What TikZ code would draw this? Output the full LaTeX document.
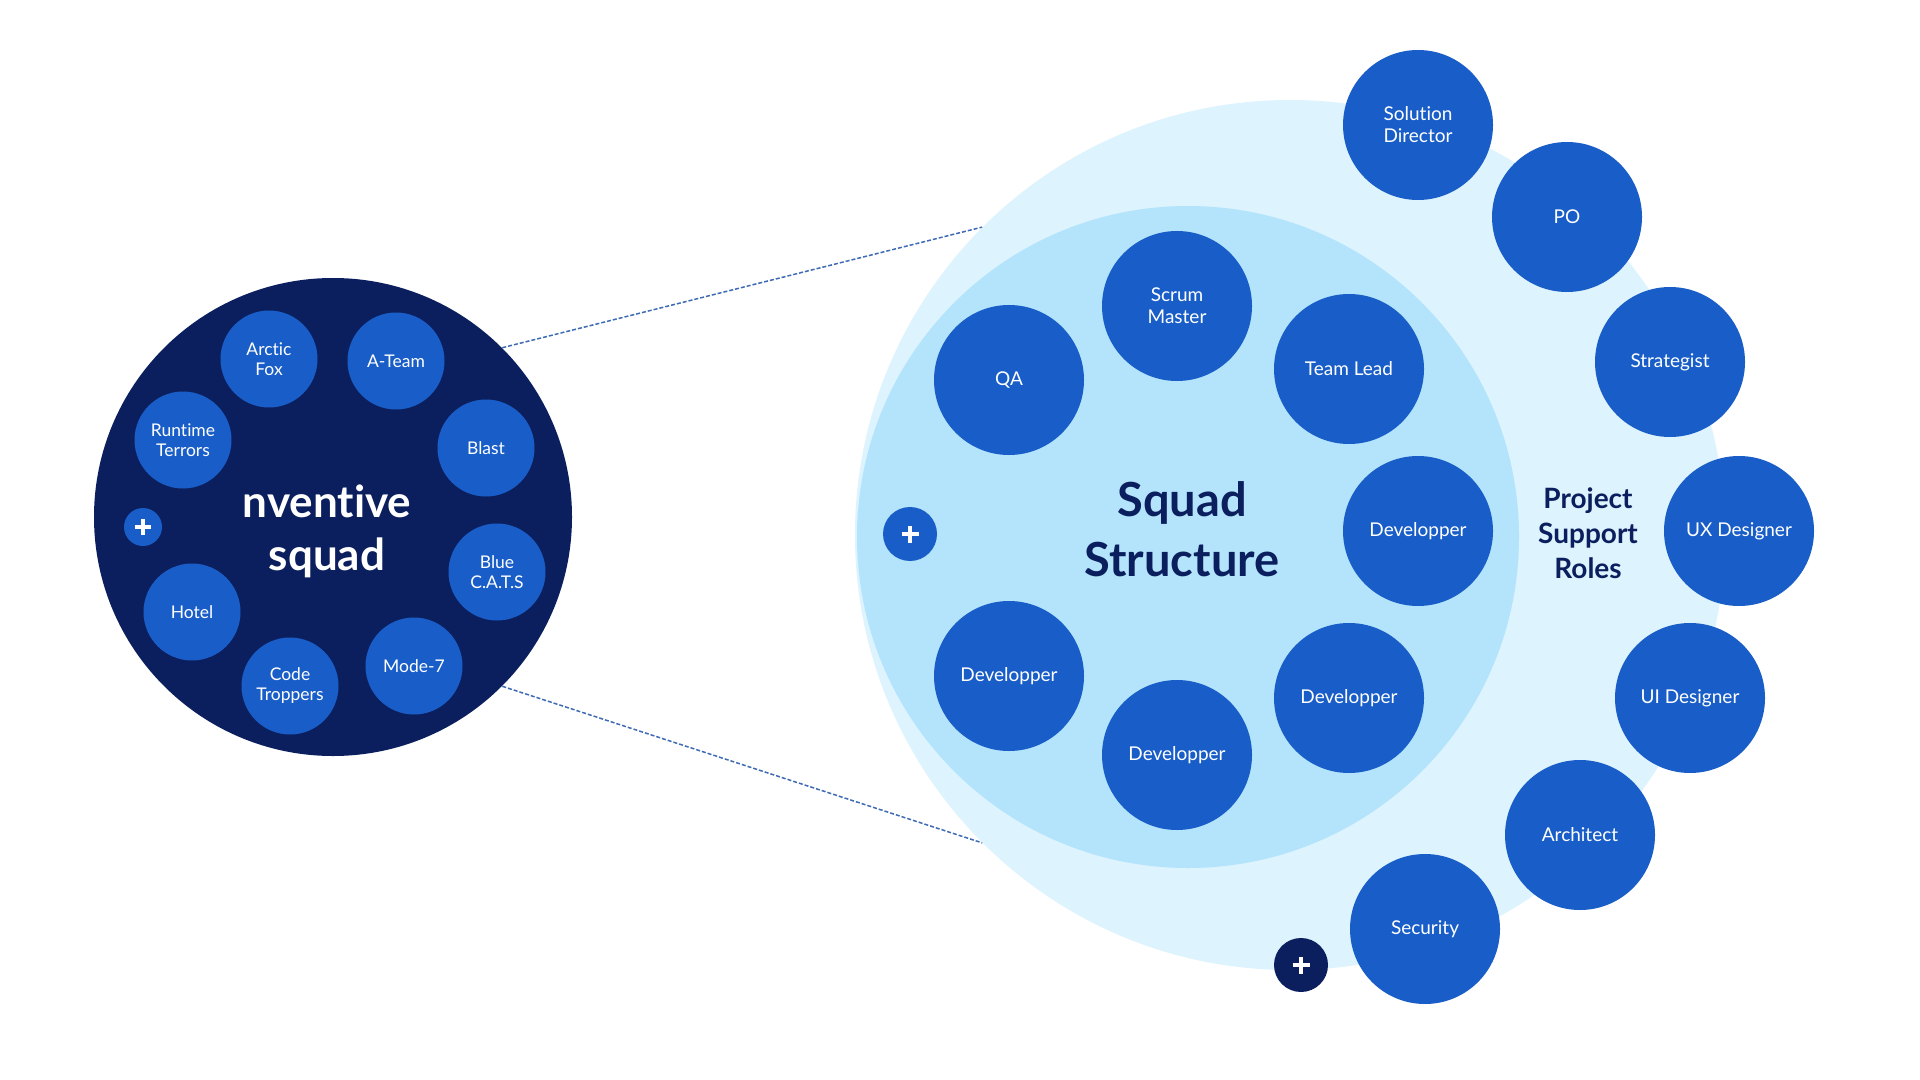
\documentclass[tikz,border=0pt]{standalone}
\usepackage{fontspec}
\setmainfont{Lato}[Ligatures=NoCommon]
\definecolor{navy}{HTML}{0B1F5E}
\definecolor{midblue}{HTML}{195EC8}
\definecolor{lightA}{HTML}{B3E4FC}
\definecolor{lightB}{HTML}{DDF3FD}
\definecolor{dashc}{HTML}{3F6BB5}
\begin{document}
\begin{tikzpicture}[x=0.5pt,y=-0.5pt,
  role/.style={circle, fill=midblue, text=white, minimum size=75pt, inner sep=0pt, align=center, font=\fontsize{9.5}{11}\selectfont},
  team/.style={circle, fill=midblue, text=white, minimum size=48.5pt, inner sep=0pt, align=center, font=\fontsize{8.75}{10}\selectfont},
  plussign/.style={path picture={\draw[white,line width=2pt,line cap=butt]
      ([xshift=-#1]path picture bounding box.center) -- ([xshift=#1]path picture bounding box.center)
      ([yshift=-#1]path picture bounding box.center) -- ([yshift=#1]path picture bounding box.center);}},
  plusbtn/.style={circle, inner sep=0pt, minimum size=27pt},
  linkline/.style={dashc, line width=0.75pt, dash pattern=on 2pt off 1pt}
]
\useasboundingbox[fill=white] (0,0) rectangle (1920,1080);

% left squad circle
\node[circle, fill=navy, minimum size=239pt, inner sep=0pt] (left) at (333,517) {};
\node[team] (arctic) at (269,359) {Arctic\\Fox};
\node[team] (ateam) at (396,361) {A-Team};
\node[team] (blast) at (486,448) {Blast};
\node[team] (bluecats) at (497,572) {Blue\\C.A.T.S};
\node[team] (mode7) at (414,666) {Mode-7};
\node[team] (code) at (290,686) {Code\\Troppers};
\node[team] (hotel) at (192,612) {Hotel};
\node[team] (runtime) at (183,440) {Runtime\\Terrors};
\node[plusbtn, fill=midblue, minimum size=19pt, plussign=3.9pt] (plusL) at (143,527) {};
\node[text=white, align=center, font=\bfseries\fontsize{22}{26.5}\selectfont] (nventive) at (327,531) {nventive\\squad};

% right circles
\node[circle, fill=lightB, minimum size=435pt, inner sep=0pt] (outer) at (1290,535) {};
\node[circle, fill=lightA, minimum size=331pt, inner sep=0pt] (inner) at (1188,537) {};

% connectors
\draw[linkline] (left.45) -- (outer.135);
\draw[linkline] (left.-45) -- (outer.225);

% squad structure
\node[role] (scrum) at (1177,306) {Scrum\\Master};
\node[role] (qa) at (1009,380) {QA};
\node[role] (teamlead) at (1349,369) {Team Lead};
\node[role] (dev1) at (1418,531) {Developper};
\node[role] (dev2) at (1349,698) {Developper};
\node[role] (dev3) at (1177,755) {Developper};
\node[role] (dev4) at (1009,676) {Developper};
\node[plusbtn, fill=midblue, plussign=4.25pt] (plusS) at (910,534) {};
\node[text=navy, align=center, font=\bfseries\fontsize{23.5}{30}\selectfont] (squadtitle) at (1182,529) {Squad\\Structure};

% support roles
\node[role] (soldir) at (1418,125) {Solution\\Director};
\node[role] (po) at (1567,217) {PO};
\node[role] (strategist) at (1670,362) {Strategist};
\node[role] (ux) at (1739,531) {UX Designer};
\node[role] (ui) at (1690,698) {UI Designer};
\node[role] (architect) at (1580,835) {Architect};
\node[role] (security) at (1425,929) {Security};
\node[plusbtn, fill=navy, plussign=4.25pt] (plusD) at (1301,965) {};
\node[text=navy, align=center, font=\bfseries\fontsize{14}{17.5}\selectfont] (supporttitle) at (1588,533) {Project\\Support\\Roles};
\end{tikzpicture}
\end{document}
